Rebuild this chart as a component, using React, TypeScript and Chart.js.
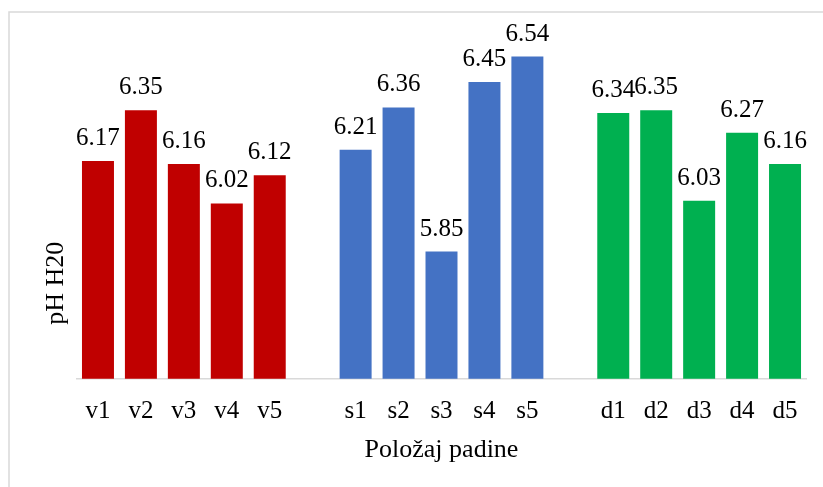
import React, { useEffect, useRef } from "react";
import { Chart, registerables } from "chart.js";

Chart.register(...registerables);

const categories = ["v1", "v2", "v3", "v4", "v5", "", "s1", "s2", "s3", "s4", "s5", "", "d1", "d2", "d3", "d4", "d5"];
const phValues: (number | null)[] = [6.17, 6.35, 6.16, 6.02, 6.12, null, 6.21, 6.36, 5.85, 6.45, 6.54, null, 6.34, 6.35, 6.03, 6.27, 6.16];
const barColors = [
  "#C00000", "#C00000", "#C00000", "#C00000", "#C00000", "#ffffff",
  "#4472C4", "#4472C4", "#4472C4", "#4472C4", "#4472C4", "#ffffff",
  "#00B050", "#00B050", "#00B050", "#00B050", "#00B050",
];
const yTitle = "pH H20";
const xTitle = "Položaj padine";
const yMin = 5.4;
const yMax = 6.7;

const FONT = "'Liberation Serif', 'Times New Roman', serif";

const decorPlugin = {
  id: "decor",
  beforeDraw(chart: any) {
    const ctx = chart.ctx;
    ctx.save();
    ctx.strokeStyle = "#d9d9d9";
    ctx.lineWidth = 1.5;
    ctx.beginPath();
    ctx.moveTo(9, chart.height + 2);
    ctx.lineTo(9, 12);
    ctx.lineTo(chart.width + 2, 12);
    ctx.stroke();
    ctx.restore();
  },
  afterDatasetsDraw(chart: any) {
    const ctx = chart.ctx;
    const meta = chart.getDatasetMeta(0);
    const data = chart.data.datasets[0].data as (number | null)[];
    ctx.save();
    ctx.fillStyle = "#000000";
    ctx.font = `25px ${FONT}`;
    ctx.textAlign = "center";
    ctx.textBaseline = "alphabetic";
    meta.data.forEach((el: any, i: number) => {
      const v = data[i];
      if (v === null || v === undefined) return;
      ctx.fillText(v.toFixed(2), el.x, el.y - 16);
    });
    const ca = chart.chartArea;
    // x title
    ctx.font = `26px ${FONT}`;
    ctx.fillText(xTitle, (ca.left + ca.right) / 2, 457);
    // y title
    ctx.translate(ca.left - 14, ca.top + (ca.bottom - ca.top) * 0.74);
    ctx.rotate(-Math.PI / 2);
    ctx.fillText(yTitle, 0, 0);
    ctx.restore();
  },
};

export default function App() {
  const ref = useRef<HTMLCanvasElement | null>(null);
  useEffect(() => {
    if (!ref.current) return;
    const chart = new Chart(ref.current, {
      type: "bar",
      data: {
        labels: categories,
        datasets: [
          {
            data: phValues as any,
            backgroundColor: barColors,
            borderWidth: 0,
            categoryPercentage: 1,
            barPercentage: 0.745,
          },
        ],
      },
      options: {
        animation: false,
        responsive: false,
        devicePixelRatio: 1,
        layout: { padding: { left: 76.5, right: 16.5, top: 11.3, bottom: 0 } },
        plugins: {
          legend: { display: false },
          tooltip: { enabled: false },
          title: { display: false },
        },
        scales: {
          x: {
            grid: { display: false, drawTicks: false },
            border: { display: true, color: "#d9d9d9", width: 1.5 },
            ticks: {
              color: "#000000",
              font: { family: FONT, size: 25 },
              padding: 18,
              maxRotation: 0,
              autoSkip: false,
            },
            afterFit(scale: any) {
              scale.height = 487 - 378.7;
            },
          },
          y: {
            display: false,
            min: yMin,
            max: yMax,
          },
        },
      },
      plugins: [decorPlugin],
    });
    return () => chart.destroy();
  }, []);
  return (
    <div style={{ position: "fixed", left: 0, top: 0, width: 823, height: 487, background: "#ffffff" }}>
      <canvas ref={ref} width={823} height={487} style={{ display: "block", width: 823, height: 487 }} />
    </div>
  );
}
